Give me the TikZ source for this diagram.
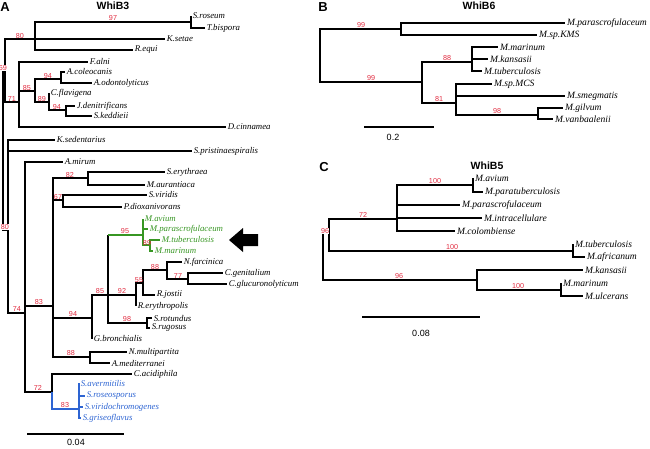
\documentclass[tikz,border=0pt]{standalone}
\usepackage{fontspec}
\setmainfont{Liberation Serif}
\setsansfont{Liberation Sans}
\definecolor{bootred}{RGB}{225,45,65}
\definecolor{cladegreen}{RGB}{55,150,35}
\definecolor{cladeblue}{RGB}{45,100,210}
\tikzset{
  br/.style={line width=1.25pt},
  leafA/.style={anchor=west, inner xsep=1.6pt, inner ysep=0pt, font=\fontsize{8.8}{9}\selectfont\itshape},
  leafB/.style={anchor=west, inner xsep=1.8pt, inner ysep=0pt, font=\fontsize{9.6}{10}\selectfont\itshape},
  boot/.style={inner sep=0pt, text=bootred, font=\sffamily\fontsize{7.2}{7.2}\selectfont},
  ttl/.style={font=\sffamily\bfseries\fontsize{10.5}{11}\selectfont},
  panel/.style={font=\sffamily\bfseries\fontsize{13}{13}\selectfont},
  scl/.style={font=\sffamily\fontsize{9}{9}\selectfont},
}
\begin{document}
\begin{tikzpicture}[x=1pt,y=-1pt]
\useasboundingbox (0,0) rectangle (650,448);

% ================= Panel A =================
\node[panel] (pA) at (5,7) {A};
\node[ttl] (tA) at (113,6) {WhiB3};

% internal nodes
\coordinate (rA) at (3,149);
\coordinate (nA69) at (5,68);
\coordinate (nA80) at (35,39);
\coordinate (nA97) at (191,22);
\coordinate (nA71) at (19,102);
\coordinate (nA85) at (35,91);
\coordinate (nA94a) at (61,79);
\coordinate (nA89) at (49,102);
\coordinate (nA94b) at (66,110);
\coordinate (nA80b) at (8,230);
\coordinate (nA74) at (25,313);
\coordinate (nA83) at (53,306);
\coordinate (nA82) at (88,178);
\coordinate (nA67) at (63,200);
\coordinate (nA94c) at (92,318);
\coordinate (nA85b) at (108,295);
\coordinate (nA95) at (143,235);
\coordinate (nA89b) at (150,245);
\coordinate (nA92) at (136,295);
\coordinate (nA55) at (143,283);
\coordinate (nA88) at (167,270);
\coordinate (nA77) at (188,279);
\coordinate (nA98) at (147,323);
\coordinate (nA88b) at (90,357);
\coordinate (nA72) at (52,392);
\coordinate (nA83b) at (79,409);

% leaves
\node[leafA] (a1) at (191,16) {S.roseum};
\node[leafA] (a2) at (205,28) {T.bispora};
\node[leafA] (a3) at (165,39) {K.setae};
\node[leafA] (a4) at (133,50) {R.equi};
\node[leafA] (a5) at (88,62) {F.alni};
\node[leafA] (a6) at (65,72) {A.coleocanis};
\node[leafA] (a7) at (92,83) {A.odontolyticus};
\node[leafA] (a8) at (49,93) {C.flavigena};
\node[leafA] (a9) at (75,106) {J.denitrificans};
\node[leafA] (a10) at (92,116) {S.keddieii};
\node[leafA] (a11) at (226,127) {D.cinnamea};
\node[leafA] (a12) at (55,140) {K.sedentarius};
\node[leafA] (a13) at (192,151) {S.pristinaespiralis};
\node[leafA] (a14) at (63,162) {A.mirum};
\node[leafA] (a15) at (165,172) {S.erythraea};
\node[leafA] (a16) at (145,185) {M.aurantiaca};
\node[leafA] (a17) at (147,195) {S.viridis};
\node[leafA] (a18) at (122,207) {P.dioxanivorans};
\node[leafA,text=cladegreen] (a19) at (143,219) {M.avium};
\node[leafA,text=cladegreen] (a20) at (148,229) {M.parascrofulaceum};
\node[leafA,text=cladegreen] (a21) at (160,240) {M.tuberculosis};
\node[leafA,text=cladegreen] (a22) at (153,251) {M.marinum};
\node[leafA] (a23) at (182,262) {N.farcinica};
\node[leafA] (a24) at (223,273) {C.genitalium};
\node[leafA] (a25) at (227,284) {C.glucuronolyticum};
\node[leafA] (a26) at (155,295) {R.jostii};
\node[leafA] (a27) at (136,306) {R.erythropolis};
\node[leafA] (a28) at (152,318) {S.rotundus};
\node[leafA] (a29) at (150,328) {S.rugosus};
\node[leafA] (a30) at (92,339) {G.bronchialis};
\node[leafA] (a31) at (127,352) {N.multipartita};
\node[leafA] (a32) at (110,363) {A.mediterranei};
\node[leafA] (a33) at (132,374) {C.acidiphila};
\node[leafA,text=cladeblue] (a34) at (79,383) {S.avermitilis};
\node[leafA,text=cladeblue] (a35) at (85,396) {S.roseosporus};
\node[leafA,text=cladeblue] (a36) at (83,407) {S.viridochromogenes};
\node[leafA,text=cladeblue] (a37) at (81,418) {S.griseoflavus};

% branches
\draw[br] (rA) |- (nA69);
\draw[br] (rA) |- (nA80b);
\draw[br] (nA69) |- (nA80);
\draw[br] (nA69) |- (nA71);
\draw[br] (nA80) |- (nA97);
\draw[br] (nA80) |- (a3.west);
\draw[br] (nA80) |- (a4.west);
\draw[br] (nA97) |- (a1.west);
\draw[br] (nA97) |- (a2.west);
\draw[br] (nA71) |- (a5.west);
\draw[br] (nA71) |- (nA85);
\draw[br] (nA71) |- (a11.west);
\draw[br] (nA85) |- (nA94a);
\draw[br] (nA85) |- (nA89);
\draw[br] (nA94a) |- (a6.west);
\draw[br] (nA94a) |- (a7.west);
\draw[br] (nA89) |- (a8.west);
\draw[br] (nA89) |- (nA94b);
\draw[br] (nA94b) |- (a9.west);
\draw[br] (nA94b) |- (a10.west);
\draw[br] (nA80b) |- (a12.west);
\draw[br] (nA80b) |- (a13.west);
\draw[br] (nA80b) |- (nA74);
\draw[br] (nA74) |- (a14.west);
\draw[br] (nA74) |- (nA83);
\draw[br] (nA74) |- (nA72);
\draw[br] (nA83) |- (nA82);
\draw[br] (nA83) |- (nA67);
\draw[br] (nA83) |- (nA94c);
\draw[br] (nA83) |- (nA88b);
\draw[br] (nA82) |- (a15.west);
\draw[br] (nA82) |- (a16.west);
\draw[br] (nA67) |- (a17.west);
\draw[br] (nA67) |- (a18.west);
\draw[br] (nA94c) |- (nA85b);
\draw[br] (nA94c) |- (a30.west);
\draw[br] (nA85b) -- (nA85b |- nA95);
\draw[br,cladegreen] (nA85b |- nA95) -- (nA95);
\draw[br,cladegreen] (nA95) |- (a19.west);
\draw[br,cladegreen] (nA95) |- (a20.west);
\draw[br,cladegreen] (nA95) |- (nA89b);
\draw[br,cladegreen] (nA89b) |- (a21.west);
\draw[br,cladegreen] (nA89b) |- (a22.west);
\draw[br] (nA85b) |- (nA92);
\draw[br] (nA85b) |- (nA98);
\draw[br] (nA92) |- (nA55);
\draw[br] (nA92) |- (a27.west);
\draw[br] (nA55) |- (nA88);
\draw[br] (nA55) |- (a26.west);
\draw[br] (nA88) |- (a23.west);
\draw[br] (nA88) |- (nA77);
\draw[br] (nA77) |- (a24.west);
\draw[br] (nA77) |- (a25.west);
\draw[br] (nA98) |- (a28.west);
\draw[br] (nA98) |- (a29.west);
\draw[br] (nA88b) |- (a31.west);
\draw[br] (nA88b) |- (a32.west);
\draw[br] (nA72) |- (a33.west);
\draw[br,cladeblue] (nA72) |- (nA83b);
\draw[br,cladeblue] (nA83b) |- (a34.west);
\draw[br,cladeblue] (nA83b) |- (a35.west);
\draw[br,cladeblue] (nA83b) |- (a36.west);
\draw[br,cladeblue] (nA83b) |- (a37.west);

% bootstrap values A
\node[boot] (bA1) at (113,18) {97};
\node[boot] (bA2) at (20,36) {80};
\node[boot,fill=white] (bA3) at (3,68) {69};
\node[boot] (bA4) at (48,76) {94};
\node[boot] (bA5) at (27,88) {85};
\node[boot] (bA6) at (12,99) {71};
\node[boot] (bA7) at (42,99) {89};
\node[boot] (bA8) at (57,107) {94};
\node[boot] (bA9) at (70,175) {82};
\node[boot] (bA10) at (58,197) {67};
\node[boot,fill=white] (bA11) at (5,227) {80};
\node[boot] (bA12) at (125,231) {95};
\node[boot] (bA13) at (147,243) {89};
\node[boot] (bA14) at (155,267) {88};
\node[boot] (bA15) at (139,280) {55};
\node[boot] (bA16) at (178,276) {77};
\node[boot] (bA17) at (100,291) {85};
\node[boot] (bA18) at (122,291) {92};
\node[boot] (bA19) at (39,302) {83};
\node[boot] (bA20) at (17,309) {74};
\node[boot] (bA21) at (73,314) {94};
\node[boot] (bA22) at (127,319) {98};
\node[boot] (bA23) at (71,353) {88};
\node[boot] (bA24) at (38,388) {72};
\node[boot] (bA25) at (65,405) {83};

% scale bar A
\coordinate (sA1) at (27,434);
\coordinate (sA2) at (124,434);
\draw[br] (sA1) -- (sA2);
\node[scl] (sAl) at (76,442.5) {0.04};

% arrow
\fill[black] (229,240) -- (243,228) -- (243,234) -- (258,234) -- (258,246) -- (243,246) -- (243,252) -- cycle;

% ================= Panel B =================
\node[panel] (pB) at (323,7) {B};
\node[ttl] (tB) at (479,6) {WhiB6};

\coordinate (rB) at (320,55);
\coordinate (nB99a) at (401,29);
\coordinate (nB99b) at (422,82);
\coordinate (nB88) at (472,62);
\coordinate (nB81) at (456,103);
\coordinate (nB98) at (538,115);

\node[leafB] (b1) at (565,23) {M.parascrofulaceum};
\node[leafB] (b2) at (537,35) {M.sp.KMS};
\node[leafB] (b3) at (498,47) {M.marinum};
\node[leafB] (b4) at (488,59) {M.kansasii};
\node[leafB] (b5) at (482,71) {M.tuberculosis};
\node[leafB] (b6) at (492,84) {M.sp.MCS};
\node[leafB] (b7) at (565,96) {M.smegmatis};
\node[leafB] (b8) at (563,108) {M.gilvum};
\node[leafB] (b9) at (553,119) {M.vanbaalenii};

\draw[br] (rB) |- (nB99a);
\draw[br] (rB) |- (nB99b);
\draw[br] (nB99a) |- (b1.west);
\draw[br] (nB99a) |- (b2.west);
\draw[br] (nB99b) |- (nB88);
\draw[br] (nB99b) |- (nB81);
\draw[br] (nB88) |- (b3.west);
\draw[br] (nB88) |- (b4.west);
\draw[br] (nB88) |- (b5.west);
\draw[br] (nB81) |- (b6.west);
\draw[br] (nB81) |- (b7.west);
\draw[br] (nB81) |- (nB98);
\draw[br] (nB98) |- (b8.west);
\draw[br] (nB98) |- (b9.west);

\node[boot] (bB1) at (361,25) {99};
\node[boot] (bB2) at (371,78) {99};
\node[boot] (bB3) at (447,58) {88};
\node[boot] (bB4) at (439,99) {81};
\node[boot] (bB5) at (497,111) {98};

\coordinate (sB1) at (364,127);
\coordinate (sB2) at (434,127);
\draw[br] (sB1) -- (sB2);
\node[scl] (sBl) at (393,137) {0.2};

% ================= Panel C =================
\node[panel] (pC) at (324,167) {C};
\node[ttl] (tC) at (487,166) {WhiB5};

\coordinate (rC) at (323,255);
\coordinate (nC96a) at (329,230);
\coordinate (nC72) at (397,219);
\coordinate (nC100a) at (473,185);
\coordinate (nC100b) at (573,251);
\coordinate (nC96b) at (477,280);
\coordinate (nC100c) at (561,290);

\node[leafB] (c1) at (473,178) {M.avium};
\node[leafB] (c2) at (483,192) {M.paratuberculosis};
\node[leafB] (c3) at (460,205) {M.parascrofulaceum};
\node[leafB] (c4) at (482,218) {M.intracellulare};
\node[leafB] (c5) at (455,231) {M.colombiense};
\node[leafB] (c6) at (573,244) {M.tuberculosis};
\node[leafB] (c7) at (585,257) {M.africanum};
\node[leafB] (c8) at (583,270) {M.kansasii};
\node[leafB] (c9) at (561,283) {M.marinum};
\node[leafB] (c10) at (583,296) {M.ulcerans};

\draw[br] (rC) |- (nC96a);
\draw[br] (rC) |- (nC96b);
\draw[br] (nC96a) |- (nC72);
\draw[br] (nC96a) |- (nC100b);
\draw[br] (nC72) |- (nC100a);
\draw[br] (nC72) |- (c3.west);
\draw[br] (nC72) |- (c4.west);
\draw[br] (nC72) |- (c5.west);
\draw[br] (nC100a) |- (c1.west);
\draw[br] (nC100a) |- (c2.west);
\draw[br] (nC100b) |- (c6.west);
\draw[br] (nC100b) |- (c7.west);
\draw[br] (nC96b) |- (c8.west);
\draw[br] (nC96b) |- (nC100c);
\draw[br] (nC100c) |- (c9.west);
\draw[br] (nC100c) |- (c10.west);

\node[boot,fill=white] (bC1) at (325,231) {96};
\node[boot] (bC2) at (363,215) {72};
\node[boot] (bC3) at (435,181) {100};
\node[boot] (bC4) at (452,247) {100};
\node[boot] (bC5) at (399,276) {96};
\node[boot] (bC6) at (518,286) {100};

\coordinate (sC1) at (362,317);
\coordinate (sC2) at (480,317);
\draw[br] (sC1) -- (sC2);
\node[scl] (sCl) at (421,333) {0.08};

\end{tikzpicture}
\end{document}
